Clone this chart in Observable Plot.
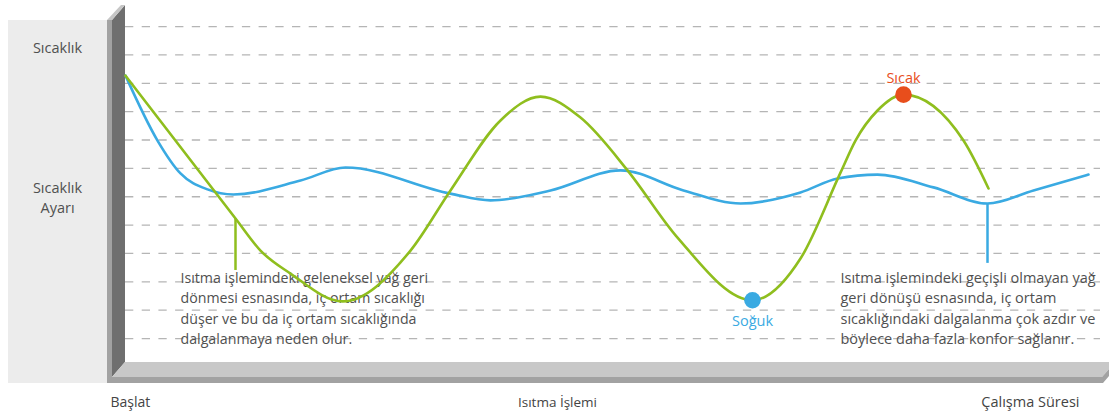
<!DOCTYPE html>
<html>
<head>
<meta charset="utf-8">
<script src="https://cdn.jsdelivr.net/npm/d3@7"></script>
<script src="https://cdn.jsdelivr.net/npm/@observablehq/plot@0.6"></script>
<style>
  html, body { margin: 0; padding: 0; background: #fff; }
  #chart svg { display: block; }
</style>
</head>
<body>
<div id="chart"></div>
<script>
// ---- data (time units along x, temperature levels along y; gridlines at 1..12) ----
const gridLevels = [1, 2, 3, 4, 5, 6, 7, 8, 9, 10, 11, 12];

const greenX = [0, 110, 135, 165, 217, 285, 325, 375, 415, 455, 502, 552, 627, 675, 715, 730, 752, 778, 838, 863];
const greenY = [10.27, 5.23, 4.10, 3.29, 2.31, 4.10, 6.22, 8.69, 9.53, 8.79, 6.93, 4.56, 2.35, 3.82, 6.85, 7.98, 9.04, 9.60, 7.98, 6.29];

const blueX = [0, 32, 55, 82, 108, 175, 220, 325, 365, 425, 495, 558, 615, 675, 712, 752, 808, 862, 908, 963];
const blueY = [10.27, 7.98, 6.82, 6.26, 6.08, 6.57, 7.03, 6.11, 5.87, 6.22, 6.93, 6.22, 5.76, 6.15, 6.64, 6.78, 6.33, 5.76, 6.22, 6.78];

const hotPoint = {x: 778, y: 9.60, label: "Sıcak"};
const coldPoint = {x: 627, y: 2.35, label: "Soğuk"};

const greenNote = {x: 110, y1: 5.23, y2: 3.40, tx: 55, ty: 2.11,
  text: "Isıtma işlemindeki geleneksel yağ geri\ndönmesi esnasında, iç ortam sıcaklığı\ndüşer ve bu da iç ortam sıcaklığında\ndalgalanmaya neden olur."};
const blueNote = {x: 862, y1: 5.76, y2: 3.65, tx: 715, ty: 2.11,
  text: "Isıtma işlemindeki geçişli olmayan yağ\ngeri dönüşü esnasında, iç ortam\nsıcaklığındaki dalgalanma çok azdır ve\nböylece daha fazla konfor sağlanır."};

const yLabels = ["Sıcaklık", "Sıcaklık\nAyarı"];
const xLabels = ["Başlat", "Isıtma İşlemi", "Çalışma Süresi"];

// ---- build tables ----
const green = greenX.map((x, i) => ({x, y: greenY[i]}));
const blue = blueX.map((x, i) => ({x, y: blueY[i]}));

const GREEN = "#8fbe1e", BLUE = "#3aaae2", RED = "#e84e1c", TEXT = "#505050";
const FONT = "'Open Sans', Roboto, 'Noto Sans', sans-serif";

// decorative 3D wall / floor / side panel
function chrome() {
  const g = d3.create("svg:g");
  g.append("rect").attr("x", 8).attr("y", 20).attr("width", 99).attr("height", 363).attr("fill", "#ececec");
  g.append("rect").attr("x", 107).attr("y", 20).attr("width", 5).attr("height", 363).attr("fill", "#a2a2a2");
  g.append("polygon").attr("points", "112,20 125,5 125,362 112,377").attr("fill", "#6f6f6f");
  g.append("polygon").attr("points", "107,20 112,20 125,5 121,5").attr("fill", "#c6c6c6");
  g.append("polygon").attr("points", "112,377 125,362 1109,362 1109,369 1102,377").attr("fill", "#c8c8c8");
  g.append("polygon").attr("points", "107,377 1102,377 1109,369 1109,376 1103,383 107,383").attr("fill", "#a2a2a2");
  return g.node();
}

const label = (t, dx, dy, anchor, size, fill, extra = {}) =>
  Plot.text([t], {frameAnchor: "top-left", dx, dy, textAnchor: anchor, lineAnchor: "middle", fontSize: size, fill, ...extra});

const chart = Plot.plot({
  width: 1109,
  height: 413,
  margin: 0,
  style: {fontFamily: FONT, background: "#fff"},
  x: {domain: [0, 984], range: [125, 1109], axis: null},
  y: {domain: [0, 13], range: [366.4, -2.3], axis: null},
  marks: [
    chrome,
    Plot.ruleY(gridLevels, {x1: 0, x2: 975, stroke: "#b5b5b5", strokeWidth: 1.3, strokeDasharray: "8.3,8.4"}),
    label(yLabels[0], 57, 48, "middle", 14.5, TEXT),
    label(yLabels[1], 57, 196, "middle", 14.5, TEXT, {lineHeight: 1.4}),
    label(xLabels[0], 110, 402, "start", 14, "#444"),
    label(xLabels[1], 557, 402, "middle", 13.5, "#444"),
    label(xLabels[2], 1079, 402, "end", 14.5, "#444"),
    Plot.text([greenNote], {x: "tx", y: "ty", text: "text", textAnchor: "start", lineAnchor: "middle", fontSize: 14.2, lineHeight: 1.44, fill: TEXT}),
    Plot.text([blueNote], {x: "tx", y: "ty", text: "text", textAnchor: "start", lineAnchor: "middle", fontSize: 14.5, lineHeight: 1.41, fill: TEXT}),
    Plot.ruleX([greenNote], {x: "x", y1: "y1", y2: "y2", stroke: GREEN, strokeWidth: 2.5}),
    Plot.ruleX([blueNote], {x: "x", y1: "y1", y2: "y2", stroke: BLUE, strokeWidth: 2.5}),
    Plot.line(blue, {x: "x", y: "y", stroke: BLUE, strokeWidth: 2.6, curve: "monotone-x"}),
    Plot.line(green, {x: "x", y: "y", stroke: GREEN, strokeWidth: 2.6, curve: "monotone-x"}),
    Plot.dot([hotPoint], {x: "x", y: "y", r: 8.3, fill: RED}),
    Plot.dot([coldPoint], {x: "x", y: "y", r: 8.3, fill: BLUE}),
    Plot.text([hotPoint], {x: "x", y: "y", text: "label", dy: -16, fontSize: 14.5, fill: RED}),
    Plot.text([coldPoint], {x: "x", y: "y", text: "label", dy: 21, fontSize: 14.5, fill: BLUE})
  ]
});
document.getElementById("chart").appendChild(chart);
</script>
</body>
</html>
